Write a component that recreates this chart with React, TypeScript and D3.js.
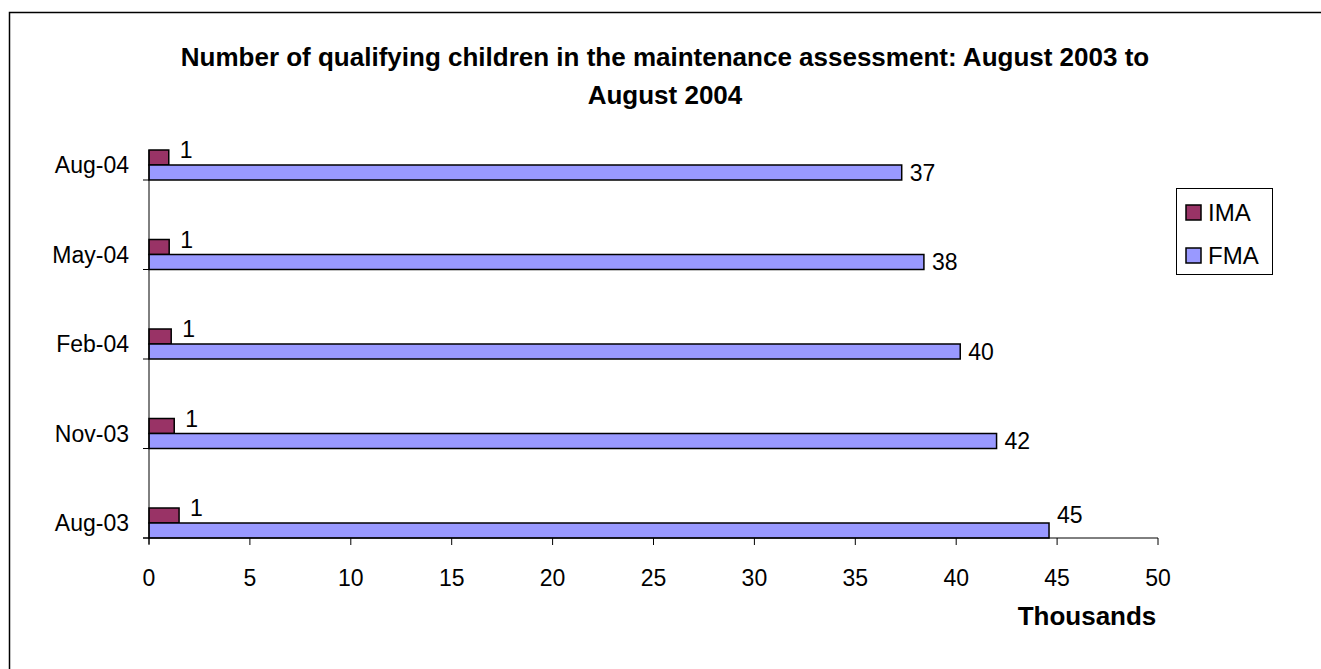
import { useMemo } from 'react';
import * as d3 from 'd3';

const W = 1321;
const H = 669;

const CATEGORIES = ['Aug-03', 'Nov-03', 'Feb-04', 'May-04', 'Aug-04'];
const IMA_VALUES = [1.49, 1.25, 1.1, 1.0, 0.98];
const FMA_VALUES = [44.6, 42.0, 40.2, 38.4, 37.3];
const IMA_LABELS = ['1', '1', '1', '1', '1'];
const FMA_LABELS = ['45', '42', '40', '38', '37'];
const X_TICKS = [0, 5, 10, 15, 20, 25, 30, 35, 40, 45, 50];

const IMA_COLOR = '#993366';
const FMA_COLOR = '#9999FF';
const FONT = '"Liberation Sans", Arial, sans-serif';

const TITLE_LINES = [
  'Number of qualifying children in the maintenance assessment: August 2003 to',
  'August 2004',
];

export default function App() {
  const x = useMemo(() => d3.scaleLinear().domain([0, 50]).range([149, 1158]), []);
  // category tick sits at the bottom edge of each group's bars
  const y = useMemo(() => d3.scalePoint<string>().domain(CATEGORIES).range([538, 180]), []);

  const barH = 15;
  const axisTop = 150;
  const axisBottom = 538;
  const fs = 23;

  return (
    <div style={{ position: 'fixed', left: 0, top: 0, width: W, height: H, background: '#fff' }}>
      <svg width={W} height={H} style={{ display: 'block' }} fontFamily={FONT}>
        <rect x={9.5} y={12.5} width={W + 20} height={H + 20} fill="#fff" stroke="#000" strokeWidth={1.5} />

        {/* Title */}
        {TITLE_LINES.map((t, i) => (
          <text key={t} x={665} y={57 + i * 38} textAnchor="middle" dominantBaseline="central"
            fontSize={26} fontWeight="bold" fill="#000">{t}</text>
        ))}

        {/* Bars */}
        {CATEGORIES.map((c, i) => {
          const base = y(c)!;
          return (
            <g key={c}>
              <rect x={x(0)} y={base - 2 * barH} width={x(IMA_VALUES[i]) - x(0)} height={barH}
                fill={IMA_COLOR} stroke="#000" strokeWidth={1.5} />
              <rect x={x(0)} y={base - barH} width={x(FMA_VALUES[i]) - x(0)} height={barH}
                fill={FMA_COLOR} stroke="#000" strokeWidth={1.5} />
              <text x={x(IMA_VALUES[i]) + 11} y={base - 2 * barH} dominantBaseline="central"
                fontSize={fs} fill="#000">{IMA_LABELS[i]}</text>
              <text x={x(FMA_VALUES[i]) + 8} y={Math.min(base - barH / 2, axisBottom - 23)} dominantBaseline="central"
                fontSize={fs} fill="#000">{FMA_LABELS[i]}</text>
              <text x={129} y={base - barH} textAnchor="end" dominantBaseline="central"
                fontSize={fs} fill="#000">{c}</text>
            </g>
          );
        })}

        {/* Y axis */}
        <line x1={x(0)} x2={x(0)} y1={axisTop} y2={axisBottom + 6} stroke="#000" strokeWidth={1} />
        {CATEGORIES.map((c) => (
          <line key={c} x1={x(0) - 6} x2={x(0)} y1={y(c)!} y2={y(c)!} stroke="#000" strokeWidth={1} />
        ))}

        {/* X axis */}
        <line x1={x(0) - 6} x2={x(50)} y1={axisBottom} y2={axisBottom} stroke="#000" strokeWidth={1} />
        {X_TICKS.map((t) => (
          <g key={t}>
            <line x1={x(t)} x2={x(t)} y1={axisBottom} y2={axisBottom + 7} stroke="#000" strokeWidth={1} />
            <text x={x(t)} y={578} textAnchor="middle" dominantBaseline="central" fontSize={fs} fill="#000">{t}</text>
          </g>
        ))}
        <text x={1087} y={616} textAnchor="middle" dominantBaseline="central" fontSize={26}
          fontWeight="bold" fill="#000">Thousands</text>

        {/* Legend */}
        <rect x={1176.5} y={188.5} width={96} height={86} fill="#fff" stroke="#000" strokeWidth={1} />
        {[
          { name: 'IMA', color: IMA_COLOR, cy: 212 },
          { name: 'FMA', color: FMA_COLOR, cy: 255 },
        ].map((d) => (
          <g key={d.name}>
            <rect x={1186} y={d.cy - 7} width={15} height={15} fill={d.color} stroke="#000" strokeWidth={1.5} />
            <text x={1208} y={d.cy} dominantBaseline="central" fontSize={24} fill="#000">{d.name}</text>
          </g>
        ))}
      </svg>
    </div>
  );
}
